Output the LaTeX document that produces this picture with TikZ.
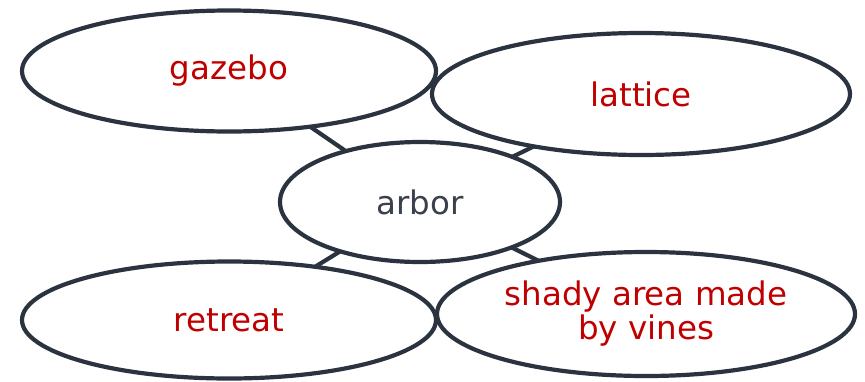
\documentclass[tikz,border=0pt]{standalone}
\usepackage{fontspec}
\setmainfont{DejaVu Sans}
\usetikzlibrary{shapes.geometric}
\definecolor{edge}{HTML}{2B3340}
\definecolor{wordred}{HTML}{C00000}
\definecolor{wordgray}{HTML}{3A404C}
\tikzset{
  bubble/.style={draw=edge, line width=4.2pt, fill=white, ellipse, inner sep=0pt,
    font=\fontsize{32.5}{34}\selectfont, align=center, text=wordred},
  link/.style={draw=edge, line width=4.2pt}
}
\begin{document}
\begin{tikzpicture}[x=1pt,y=-1pt]
\useasboundingbox (0,0) rectangle (865,381);
\coordinate (cg) at (229,71);
\coordinate (cl) at (641,94);
\coordinate (ca) at (420,202);
\coordinate (cr) at (229,320);
\coordinate (cs) at (646,314);
\draw[link] (ca) -- (cg);
\draw[link] (ca) -- (cl);
\draw[link] (ca) -- (cr);
\draw[link] (ca) -- (cs);
\node[bubble, minimum width=414pt, minimum height=121pt] (gazebo) at (cg) {gazebo};
\node[bubble, minimum width=418pt, minimum height=122pt] (lattice) at (cl) {lattice};
\node[bubble, minimum width=418pt, minimum height=124pt] (shady) at (cs) {shady area made\\by vines};
\node[bubble, minimum width=414pt, minimum height=117pt] (retreat) at (cr) {retreat};
\node[bubble, minimum width=280pt, minimum height=120pt, text=wordgray] (arbor) at (ca) {arbor};
\end{tikzpicture}
\end{document}
